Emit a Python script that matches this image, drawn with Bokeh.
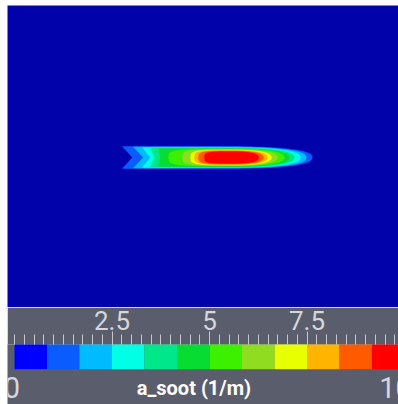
import numpy as np
from bokeh.plotting import figure
from bokeh.models import Range1d, FixedTicker, Label, ColumnDataSource
from bokeh.layouts import column
from bokeh.embed import file_html
from bokeh.resources import INLINE

# ---------------- data ----------------
# colour-bar bins (a_soot, 1/m) and their colours
cbar_edges = [0.0, 0.833, 1.667, 2.5, 3.333, 4.167, 5.0, 5.833, 6.667, 7.5, 8.333, 9.167, 10.0]
cbar_colors = ["#0000ff", "#0a5cff", "#00bcff", "#00ffe4", "#00e68a", "#06dc32",
               "#3cf000", "#90dc20", "#e8ff00", "#ffb400", "#ff5a00", "#ff0000"]
tick_values = [2.5, 5.0, 7.5]
tick_labels = ["2.5", "5", "7.5"]
end_values = [0.0, 10.0]
end_labels = ["0", "10"]
cbar_title = "a_soot (1/m)"

# soot field contours (bin index, axial extent, radial half-height, swallow-tail notch)
flame_level = [1, 2, 3, 4, 5, 6, 7, 8, 9, 10, 11]
flame_x_left = [122, 133, 142, 150, 158, 168, 182, 190, 194, 198, 204]
flame_x_right = [312, 306, 300, 294, 289, 284, 277, 271, 267, 263, 258]
flame_half_height = [11.0, 10.5, 10.0, 9.5, 9.0, 8.5, 8.0, 7.5, 7.0, 6.5, 6.0]
flame_notch = [10, 10, 8, 4, 2, 0, 0, 0, 0, 0, 0]

FIELD_BG = "#0202aa"
BAND_BG = "#5a5e6c"
P_RIGHT = 2.5
P_LEFT = 4.0


def outline(xl, xr, hh, notch):
    xm = 0.5 * (xl + xr)
    t = np.linspace(0.0, 1.0, 60)
    xs_r = xm + (xr - xm) * t
    ys_r = hh * (1 - t ** P_RIGHT) ** (1 / P_RIGHT)
    if notch > 0:
        xs_l = np.array([xl, xm])
        ys_l = np.array([hh, hh])
        top_x = np.concatenate([xs_l, xs_r[1:]])
        top_y = np.concatenate([ys_l, ys_r[1:]])
        xs = np.concatenate([[xl + notch], top_x, top_x[::-1]])
        ys = np.concatenate([[0.0], top_y, -top_y[::-1]])
    else:
        xs_l = xm - (xm - xl) * t[::-1]
        ys_l = hh * (1 - t[::-1] ** P_LEFT) ** (1 / P_LEFT)
        top_x = np.concatenate([xs_l, xs_r[1:]])
        top_y = np.concatenate([ys_l, ys_r[1:]])
        xs = np.concatenate([top_x, top_x[::-1]])
        ys = np.concatenate([top_y, -top_y[::-1]])
    return list(xs), list(ys)


# ---------------- field view ----------------
W = 391
H_TOP = 302
H_BOT = 97

top = figure(width=W, height=H_TOP, x_range=Range1d(7, 398), y_range=Range1d(-150, 152),
             output_backend="svg", toolbar_location=None, min_border=0,
             x_axis_location=None, y_axis_location=None)
top.background_fill_color = FIELD_BG
top.border_fill_color = FIELD_BG
top.outline_line_color = None
top.grid.visible = False

pxs, pys, pcols = [], [], []
for lv, xl, xr, hh, nt in zip(flame_level, flame_x_left, flame_x_right, flame_half_height, flame_notch):
    xs, ys = outline(xl, xr, hh, nt)
    pxs.append(xs)
    pys.append(ys)
    pcols.append(cbar_colors[lv])
top.patches(xs="xs", ys="ys", fill_color="color", line_color="color", line_width=0.5,
            source=ColumnDataSource(dict(xs=pxs, ys=pys, color=pcols)))

# ---------------- colour bar ----------------
x0 = -7 / 39.0
x1 = 384 / 39.0
bot = figure(width=W, height=H_BOT, x_range=Range1d(x0, x1), y_range=Range1d(0, 58),
             output_backend="svg", toolbar_location=None, min_border=0,
             x_axis_location="above", y_axis_location=None)
bot.background_fill_color = BAND_BG
bot.border_fill_color = BAND_BG
bot.outline_line_color = None
bot.grid.visible = False

bot.quad(left=cbar_edges[:-1], right=cbar_edges[1:], bottom=34, top=80,
         fill_color=cbar_colors, line_color=None)

ax = bot.xaxis[0]
minor = [round(v, 2) for v in np.arange(0, 10.01, 0.25)]
ax.ticker = FixedTicker(ticks=tick_values, minor_ticks=minor)
ax.major_label_overrides = {v: s for v, s in zip(tick_values, tick_labels)}
ax.axis_line_color = None
ax.major_tick_line_color = "#c8c8cc"
ax.minor_tick_line_color = "#c8c8cc"
ax.major_tick_out = 13
ax.major_tick_in = 0
ax.minor_tick_out = 10
ax.minor_tick_in = 0
ax.major_label_standoff = 2
ax.major_label_text_font = "Roboto"
ax.major_label_text_font_size = "26px"
ax.major_label_text_color = "#d6d6dc"

for v, s, off in zip(end_values, end_labels, [-2.5, -9]):
    bot.add_layout(Label(x=v, y=17, y_units="screen", x_offset=off, text=s, text_align="center",
                         text_baseline="middle", text_font="Roboto",
                         text_font_size="29px", text_color="#d6d6dc"))
bot.add_layout(Label(x=4.6, y=17, y_units="screen", text=cbar_title, text_align="center",
                     text_baseline="middle", text_font="Roboto", text_font_style="bold",
                     text_font_size="20px", text_color="#ffffff"))

layout = column(top, bot, spacing=0, margin=(5, 0, 0, 7))
open("out.html", "w").write(file_html(layout, INLINE))
